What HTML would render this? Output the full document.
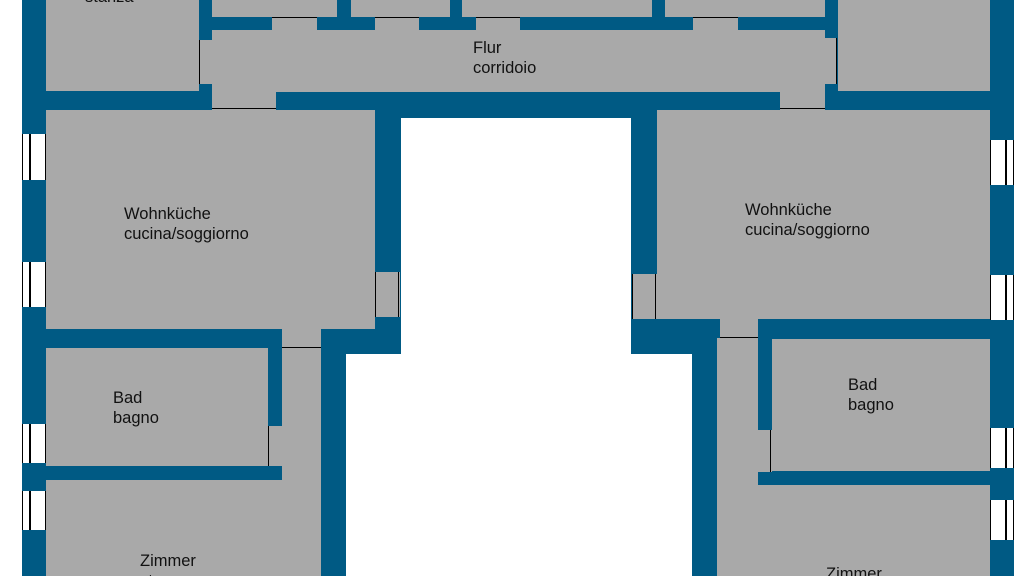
<!DOCTYPE html><html style="overflow:hidden;height:576px"><head><style>
body{margin:0;width:1024px;height:576px;overflow:hidden;background:#fff;position:relative;font-family:"Liberation Sans",sans-serif;}
div{position:absolute;box-sizing:border-box}
.b{background:#005a84}.g{background:#a9a9a9}.w{background:#fff}
.t{font-size:16.5px;line-height:20px;color:#111;white-space:nowrap}
.win{background:#fff;border-left:1.5px solid #000;border-right:1.5px solid #000}
.win:after{content:"";position:absolute;left:6px;top:0;bottom:0;width:1.5px;background:#000}
.lv{width:0;border-left:1.5px solid #000}.lh{height:0;border-top:1.5px solid #000}
#c{left:0;top:0;width:1024px;height:576px;overflow:hidden}
</style></head><body><div id="c">
<div class="b" style="left:22px;top:0;width:992px;height:576px"></div>
<!-- top -->
<div class="g" style="left:46px;top:0;width:153px;height:91px"></div>
<div class="g" style="left:838px;top:0;width:152px;height:91px"></div>
<div class="g" style="left:212px;top:0;width:125px;height:17px"></div>
<div class="g" style="left:351px;top:0;width:99px;height:17px"></div>
<div class="g" style="left:462px;top:0;width:190px;height:17px"></div>
<div class="g" style="left:665px;top:0;width:160px;height:17px"></div>
<div class="g" style="left:200px;top:30px;width:637px;height:62px"></div>
<div class="g" style="left:272px;top:17px;width:45px;height:13px"></div>
<div class="g" style="left:375px;top:17px;width:44px;height:13px"></div>
<div class="g" style="left:476px;top:17px;width:44px;height:13px"></div>
<div class="g" style="left:693px;top:17px;width:45px;height:13px"></div>
<div class="lh" style="left:272px;top:17px;width:45px"></div>
<div class="lh" style="left:375px;top:17px;width:44px"></div>
<div class="lh" style="left:476px;top:17px;width:44px"></div>
<div class="lh" style="left:693px;top:17px;width:45px"></div>
<div class="b" style="left:200px;top:0;width:12px;height:40px"></div>
<div class="b" style="left:825px;top:0;width:12px;height:38px"></div>
<div class="b" style="left:200px;top:84px;width:12px;height:10px"></div>
<div class="b" style="left:825px;top:84px;width:12px;height:10px"></div>
<div class="lv" style="left:199px;top:40px;height:44px"></div>
<div class="lv" style="left:836px;top:38px;height:46px"></div>
<div class="g" style="left:212px;top:91px;width:64px;height:19px"></div>
<div class="g" style="left:780px;top:91px;width:45px;height:19px"></div>
<div class="lh" style="left:212px;top:108px;width:64px"></div>
<div class="lh" style="left:780px;top:108px;width:45px"></div>
<div class="t" style="left:473px;top:38px">Flur<br>corridoio</div>
<div class="t" style="left:85px;top:-13px">stanza</div>
<!-- courtyard -->
<div class="w" style="left:401px;top:118px;width:230px;height:458px"></div>
<div class="w" style="left:346px;top:354px;width:346px;height:222px"></div>
<!-- left unit -->
<div class="g" style="left:46px;top:110px;width:329px;height:219px"></div>
<div class="g" style="left:375px;top:272px;width:25px;height:45px"></div>
<div class="lv" style="left:375px;top:272px;height:45px"></div>
<div class="lv" style="left:398px;top:272px;height:45px"></div>
<div class="g" style="left:282px;top:329px;width:39px;height:247px"></div>
<div class="lh" style="left:282px;top:347px;width:39px"></div>
<div class="g" style="left:46px;top:348px;width:222px;height:118px"></div>
<div class="g" style="left:268px;top:426px;width:14px;height:40px"></div>
<div class="lv" style="left:268px;top:426px;height:40px"></div>
<div class="g" style="left:46px;top:480px;width:275px;height:96px"></div>
<div class="t" style="left:124px;top:204px">Wohnküche<br>cucina/soggiorno</div>
<div class="t" style="left:113px;top:388px">Bad<br>bagno</div>
<div class="t" style="left:140px;top:551px">Zimmer<br>stanza</div>
<!-- right unit -->
<div class="g" style="left:657px;top:110px;width:333px;height:209px"></div>
<div class="g" style="left:632px;top:274px;width:25px;height:45px"></div>
<div class="lv" style="left:632px;top:274px;height:45px"></div>
<div class="lv" style="left:655px;top:274px;height:45px"></div>
<div class="g" style="left:720px;top:319px;width:38px;height:19px"></div>
<div class="lh" style="left:720px;top:337px;width:38px"></div>
<div class="g" style="left:717px;top:338px;width:41px;height:238px"></div>
<div class="g" style="left:772px;top:339px;width:218px;height:132px"></div>
<div class="g" style="left:758px;top:430px;width:14px;height:42px"></div>
<div class="lv" style="left:770px;top:430px;height:42px"></div>
<div class="g" style="left:717px;top:485px;width:273px;height:91px"></div>
<div class="t" style="left:745px;top:200px">Wohnküche<br>cucina/soggiorno</div>
<div class="t" style="left:848px;top:375px">Bad<br>bagno</div>
<div class="t" style="left:826px;top:564px">Zimmer<br>stanza</div>
<!-- windows -->
<div class="win" style="left:22px;top:134px;width:24px;height:46px"></div>
<div class="win" style="left:22px;top:262px;width:24px;height:45px"></div>
<div class="win" style="left:22px;top:424px;width:24px;height:39px"></div>
<div class="win" style="left:22px;top:491px;width:24px;height:39px"></div>
<div class="win" style="left:990px;top:140px;width:24px;height:45px;transform:scaleX(-1)"></div>
<div class="win" style="left:990px;top:275px;width:24px;height:45px;transform:scaleX(-1)"></div>
<div class="win" style="left:990px;top:428px;width:24px;height:40px;transform:scaleX(-1)"></div>
<div class="win" style="left:990px;top:500px;width:24px;height:40px;transform:scaleX(-1)"></div>
</div></body></html>
